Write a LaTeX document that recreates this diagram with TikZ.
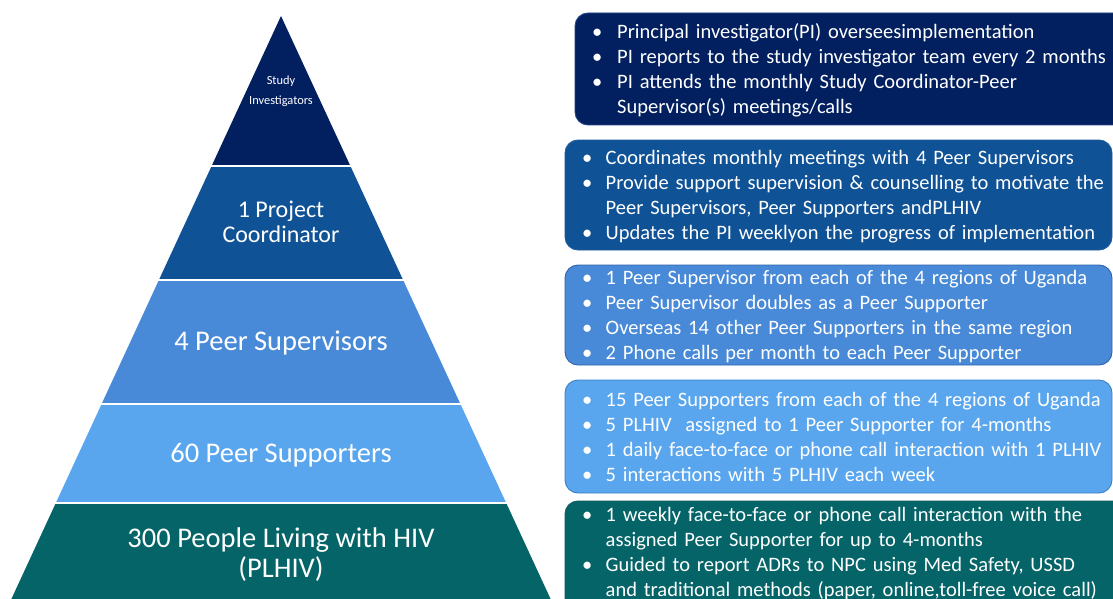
\documentclass[tikz,border=0pt]{standalone}
\usepackage{fontspec}
\setmainfont{Carlito}
\definecolor{cA}{HTML}{022060}
\definecolor{cB}{HTML}{105296}
\definecolor{cC}{HTML}{488AD8}
\definecolor{cD}{HTML}{59A6EE}
\definecolor{cE}{HTML}{046468}
\definecolor{eA}{HTML}{24428A}
\definecolor{eB}{HTML}{1E5C9E}
\definecolor{eC}{HTML}{2F62AA}
\definecolor{eD}{HTML}{3A80C8}
\definecolor{eE}{HTML}{0A5A5E}
\newlength\bind
\newcommand\bitem[1]{\par\noindent\hangindent=\bind\hangafter=1\strut\makebox[\bind][l]{•}#1\par}
\begin{document}
\begin{tikzpicture}[x=1pt,y=-1pt,
  tiertext/.style={text=white, inner sep=0pt, anchor=base, align=center},
  infobox/.style={rounded corners=13pt, line width=0.9pt},
  infotext/.style={text=white, inner sep=0pt, anchor=north west, text width=600pt,
    font=\fontsize{20.5}{25}\selectfont}]
\useasboundingbox (0,0) rectangle (1113,599);
\clip (0,0) rectangle (1113,599);
% pyramid tiers
\fill[cA] (281,16) -- (350.4,166) -- (211.6,166) -- cycle;
\fill[cB] (211.6,166) -- (350.4,166) -- (403.1,280) -- (158.9,280) -- cycle;
\fill[cC] (158.9,280) -- (403.1,280) -- (460.4,404) -- (101.6,404) -- cycle;
\fill[cD] (101.6,404) -- (460.4,404) -- (506.2,503) -- (55.8,503) -- cycle;
\fill[cE] (55.8,503) -- (506.2,503) -- (553.4,605) -- (8.6,605) -- cycle;
\foreach \yy/\xl/\xr in {166/208/354, 280/155/407, 404/98/464, 503/52/510}
  \draw[white, line width=2pt] (\xl,\yy) -- (\xr,\yy);
% pyramid labels
\node[tiertext, font=\fontsize{12.4}{20}\selectfont] (t1) at (281,105) {Study\\Investigators};
\node[tiertext, font=\fontsize{24}{25}\selectfont] (t2) at (281,242) {1 Project\\Coordinator};
\node[tiertext, font=\fontsize{28.5}{30}\selectfont] (t3) at (281,350.5) {4 Peer Supervisors};
\node[tiertext, font=\fontsize{28.5}{30}\selectfont] (t4) at (281,462) {60 Peer Supporters};
\node[tiertext, font=\fontsize{28.5}{30}\selectfont] (t5) at (281,577) {300 People Living with HIV\\(PLHIV)};
% right boxes
\filldraw[infobox, fill=cA, draw=eA] (575,13) rectangle (1130,125);
\filldraw[infobox, fill=cB, draw=eB] (565,140) rectangle (1112,250);
\filldraw[infobox, fill=cC, draw=eC] (565,265) rectangle (1112,365);
\filldraw[infobox, fill=cD, draw=eD] (565,380) rectangle (1112,493);
\filldraw[infobox, fill=cE, draw=eE] (565,501) rectangle (1130,640);
\setlength\bind{25pt}
\node[infotext] (b1) at (592,13.5) {%
\bitem{Principal investigator(PI) overseesimplementation}
\bitem{PI reports to the study investigator team every 2 months}
\bitem{PI attends the monthly Study Coordinator-Peer\newline Supervisor(s) meetings/calls}};
\setlength\bind{23.5pt}
\node[infotext] (b2) at (582,139.5) {%
\bitem{Coordinates monthly meetings with 4 Peer Supervisors}
\bitem{Provide support supervision \& counselling to motivate the\newline Peer Supervisors, Peer Supporters andPLHIV}
\bitem{Updates the PI weeklyon the progress of implementation}};
\node[infotext] (b3) at (582,259.5) {%
\bitem{1 Peer Supervisor from each of the 4 regions of Uganda}
\bitem{Peer Supervisor doubles as a Peer Supporter}
\bitem{Overseas 14 other Peer Supporters in the same region}
\bitem{2 Phone calls per month to each Peer Supporter}};
\node[infotext] (b4) at (582,381) {%
\bitem{15 Peer Supporters from each of the 4 regions of Uganda}
\bitem{5 PLHIV\ \ assigned to 1 Peer Supporter for 4-months}
\bitem{1 daily face-to-face or phone call interaction with 1 PLHIV}
\bitem{5 interactions with 5 PLHIV each week}};
\node[infotext] (b5) at (582,496.5) {%
\bitem{1 weekly face-to-face or phone call interaction with the\newline assigned Peer Supporter for up to 4-months}
\bitem{Guided to report ADRs to NPC using Med Safety, USSD\newline and traditional methods (paper, online,toll-free voice call)}};
\end{tikzpicture}
\end{document}
